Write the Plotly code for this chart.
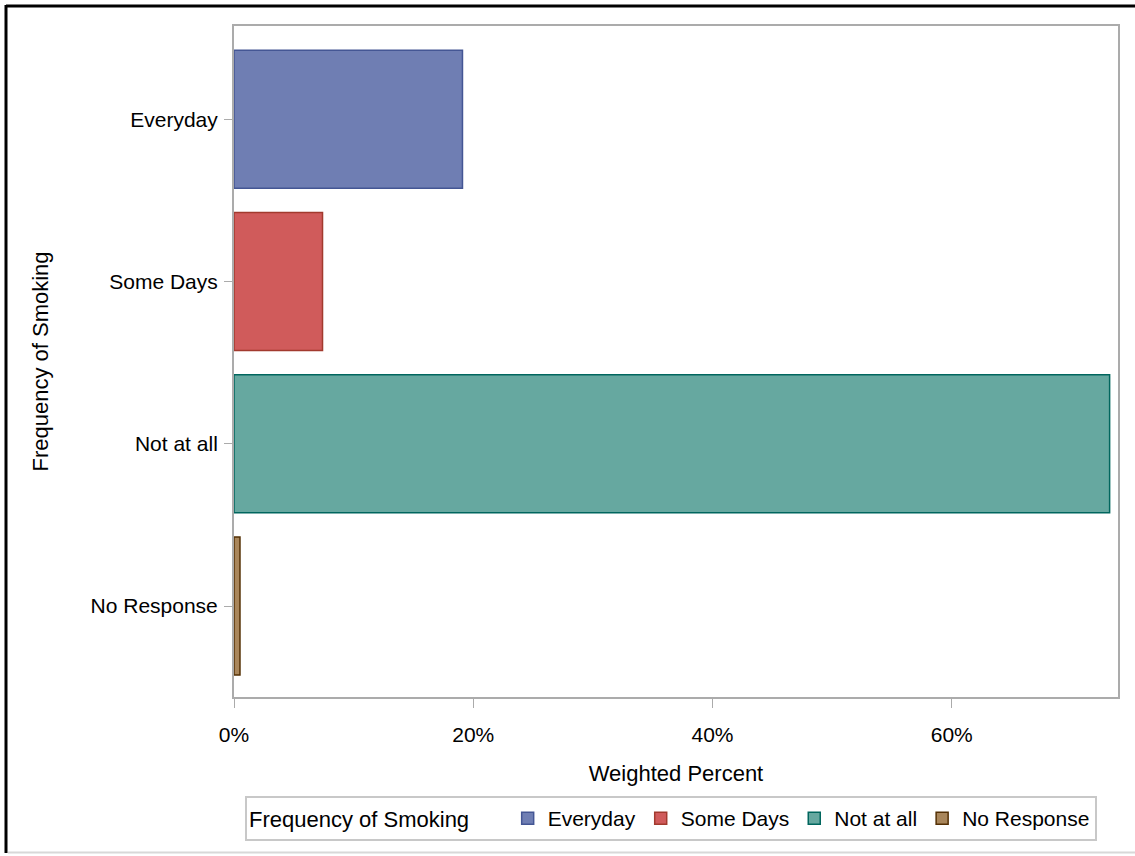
import plotly.graph_objects as go

categories = ["Everyday", "Some Days", "Not at all", "No Response"]
percents = [19.1, 7.4, 73.2, 0.5]
fill_colors = ["#6F7EB3", "#D05B5B", "#66A8A0", "#A9865B"]
edge_colors = ["#445694", "#A23A2E", "#01665E", "#543005"]
x_ticks = [0, 20, 40, 60]
x_tick_labels = ["0%", "20%", "40%", "60%"]

W, H = 1135, 856
L, R, T, B = 234, 17, 26, 159
pw, ph = W - L - R, H - T - B

def px(x):
    return (x - L) / pw

def py(y):
    return (H - B - y) / ph

fig = go.Figure()
for cat, val, fc, ec in zip(categories, percents, fill_colors, edge_colors):
    fig.add_trace(go.Bar(
        y=[cat], x=[val], orientation="h", name=cat,
        marker=dict(color=fc, line=dict(color=ec, width=1.5)),
        width=0.85,
    ))

font_family = "Liberation Sans, Arial, sans-serif"
fs = 21
ft = 22
fig.update_layout(
    width=W, height=H,
    margin=dict(l=L, r=R, t=T, b=B),
    paper_bgcolor="white", plot_bgcolor="white",
    font=dict(family=font_family, size=fs, color="black"),
    showlegend=True,
    legend=dict(
        orientation="h", x=px(245), y=py(796), xanchor="left", yanchor="top",
        bordercolor="#C8C8C8", borderwidth=2, bgcolor="white",
        title=dict(text="Frequency of Smoking     ", side="left", font=dict(size=ft)),
        font=dict(size=fs), traceorder="normal",
    ),
    xaxis=dict(
        range=[0, 73.9], tickvals=x_ticks, ticktext=x_tick_labels,
        showgrid=False, zeroline=False, showline=True, linecolor="#ABABAB", linewidth=2,
        mirror=True, ticks="outside", ticklen=9, tickcolor="#ABABAB", tickwidth=1,
        tickfont=dict(size=fs), ticklabelstandoff=9,
        title=dict(text="Weighted Percent", standoff=20, font=dict(size=ft)),
    ),
    yaxis=dict(
        categoryorder="array", categoryarray=categories,
        range=[3.56, -0.574],
        showgrid=False, zeroline=False, showline=True, linecolor="#ABABAB", linewidth=2,
        mirror=True, ticks="outside", ticklen=8, tickcolor="#ABABAB", tickwidth=1,
        tickfont=dict(size=fs), ticklabelstandoff=2,
        title=dict(text="Frequency of Smoking", standoff=36, font=dict(size=ft)),
    ),
    shapes=[
        dict(type="line", xref="paper", yref="paper", x0=px(6), x1=px(1136), y0=py(6), y1=py(6),
             line=dict(color="black", width=3)),
        dict(type="line", xref="paper", yref="paper", x0=px(6), x1=px(6), y0=py(5), y1=py(853),
             line=dict(color="black", width=3)),
        dict(type="line", xref="paper", yref="paper", x0=px(8), x1=px(1136), y0=py(852.5), y1=py(852.5),
             line=dict(color="#D8D8D8", width=2)),
    ],
)

fig.write_html(
    "out.html",
    config={"displayModeBar": False},
    post_script="document.body.style.margin='0';document.body.style.overflow='hidden';",
)
